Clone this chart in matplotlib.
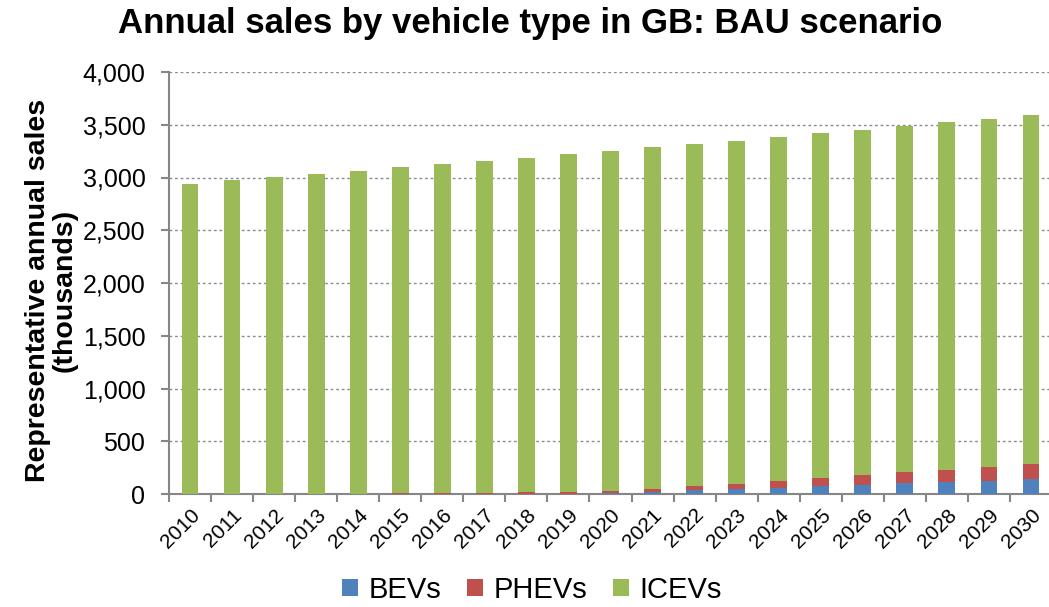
import numpy as np
import matplotlib
matplotlib.use("Agg")
import matplotlib.pyplot as plt
from matplotlib.ticker import FuncFormatter, FixedLocator

plt.rcParams['font.family'] = ['Liberation Sans', 'DejaVu Sans']

# values (thousands)
years = [str(y) for y in range(2010, 2031)]
bevs = [0, 0, 1, 1, 1, 2, 2, 3, 4, 4, 8, 22, 35, 47, 60, 76, 85, 101, 117, 126, 139]
phevs = [0, 0, 1, 1, 2, 3, 5, 8, 12, 16, 17, 23, 38, 51, 60, 73, 92, 104, 114, 133, 146]
icevs = [2940, 2975, 3003, 3033, 3062, 3090, 3118, 3144, 3172, 3200, 3229,
         3240, 3245, 3252, 3265, 3269, 3275, 3282, 3291, 3298, 3308]

W, H = 1049, 607
fig = plt.figure(figsize=(W / 100, H / 100), dpi=100)
ax = fig.add_axes([169 / W, 1 - 494 / H, (1052 - 169) / W, (494 - 72) / H])

x = np.arange(len(years))
bw = 0.4
bevs = np.array(bevs)
phevs = np.array(phevs)
icevs = np.array(icevs)
ax.bar(x, bevs, bw, color='#4F81BD', label='BEVs', zorder=3)
ax.bar(x, phevs, bw, bottom=bevs, color='#C0504D', label='PHEVs', zorder=3)
ax.bar(x, icevs, bw, bottom=bevs + phevs, color='#9BBB59', label='ICEVs', zorder=3)

ax.set_xlim(-0.5, len(years) - 0.5)
ax.set_ylim(0, 4000)
ax.set_yticks(np.arange(0, 4001, 500))
ax.yaxis.set_major_formatter(FuncFormatter(lambda v, p: f'{int(v):,}'))
ax.tick_params(axis='y', labelsize=18, length=6, pad=11, color='#868686', width=1.5)

ax.set_xticks(x)
ax.set_xticklabels(years, rotation=45, ha='right', rotation_mode='anchor', fontsize=15)
ax.tick_params(axis='x', length=0, pad=8)
ax.xaxis.set_minor_locator(FixedLocator(np.arange(-0.5, len(years), 1)))
ax.tick_params(axis='x', which='minor', length=6, color='#868686', width=1.5)

ax.grid(axis='y', linestyle=(0, (2, 2)), color='#8c8c8c', linewidth=1, zorder=0)
for s in ['top', 'right']:
    ax.spines[s].set_visible(False)
for s in ['left', 'bottom']:
    ax.spines[s].set_color('#868686')
    ax.spines[s].set_linewidth(1.5)

ax.set_ylabel('Representative annual sales\n(thousands)', fontsize=20.5,
              fontweight='bold', linespacing=1.0)
ax.yaxis.set_label_coords(-0.104, 0.483)
fig.text(530 / W, 1 - 24 / H, 'Annual sales by vehicle type in GB: BAU scenario',
         ha='center', va='center', fontsize=25, fontweight='bold')

fig.legend(loc='center', bbox_to_anchor=(532 / W, 1 - 590 / H), ncol=3,
           frameon=False, fontsize=21, handlelength=0.55, handleheight=0.55,
           handletextpad=0.35, columnspacing=0.9)

fig.savefig('out.png', dpi=100)
